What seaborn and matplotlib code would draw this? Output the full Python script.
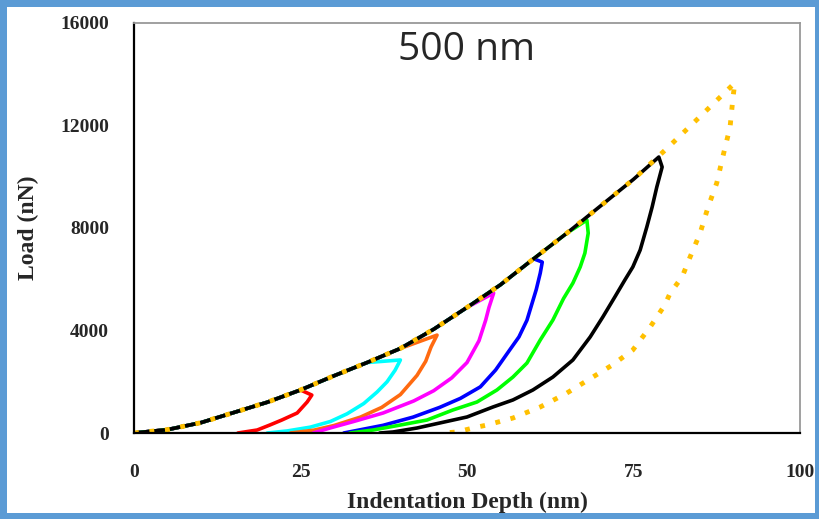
import matplotlib
matplotlib.use('Agg')
import matplotlib.pyplot as plt
import numpy as np
import pandas as pd
import seaborn as sns
from matplotlib.patches import Rectangle

# shared loading branch (depth nm, load nN)
loading_depth = [0, 5, 10, 15, 20, 25, 30, 35, 40, 45, 50, 55, 60, 65, 70, 75, 80, 85, 90]
loading_load = [0, 130, 400, 800, 1200, 1680, 2230, 2750, 3300, 4050, 4900, 5780, 6800, 7800,
                8850, 9900, 11100, 12350, 13650]

# unloading branches, each starting at its peak
red_depth = [26.7, 26.0, 24.5, 22.2, 20.4, 18.5, 15.6]
red_load = [1480, 1210, 780, 507, 312, 117, 0]

cyan_depth = [40.0, 39.2, 38.0, 36.5, 34.5, 32.0, 29.5, 26.5, 23.0, 20.0]
cyan_load = [2850, 2450, 2000, 1600, 1150, 750, 450, 230, 80, 0]

orange_depth = [45.5, 44.6, 43.8, 42.5, 40.0, 37.2, 34.0, 30.0, 27.0, 23.5]
orange_load = [3820, 3355, 2800, 2250, 1500, 1000, 620, 290, 110, 0]

magenta_depth = [54.0, 53.3, 52.8, 51.8, 50.0, 47.7, 45.0, 42.0, 37.4, 33.0, 29.5, 26.9]
magenta_load = [5460, 4900, 4400, 3600, 2750, 2150, 1650, 1250, 780, 450, 200, 0]

blue_depth = [61.3, 61.0, 60.4, 59.7, 59.0, 57.8, 56.3, 54.3, 52.0, 49.0, 45.9, 41.9, 37.4, 31.5]
blue_load = [6670, 6240, 5600, 5000, 4400, 3750, 3200, 2460, 1800, 1350, 1000, 620, 300, 0]

green_depth = [68.0, 68.2, 67.7, 67.0, 65.9, 64.5, 62.9, 61.0, 59.0, 56.9, 54.5, 51.5, 47.9,
               44.0, 40.0, 35.9, 32.4]
green_load = [8310, 7800, 7020, 6480, 5850, 5250, 4410, 3630, 2730, 2185, 1680, 1210, 900,
              507, 312, 117, 0]

black_depth = [78.8, 79.3, 78.5, 77.8, 77.0, 76.0, 74.9, 73.7, 72.2, 70.4, 68.5, 65.9, 62.9,
               59.9, 56.9, 53.9, 50.0, 45.9, 42.5, 38.9, 36.9]
black_load = [10770, 10380, 9600, 8820, 8040, 7140, 6480, 5970, 5310, 4530, 3750, 2850, 2185,
              1680, 1290, 1015, 625, 390, 195, 40, 0]

yellow_depth = [90.2, 89.9, 89.5, 88.4, 87.5, 86.2, 85.0, 83.5, 82.3, 80.5, 79.7, 77.5, 74.9,
                71.8, 68.9, 65.0, 61.0, 56.9, 53.0, 50.9, 48.5, 46.4]
yellow_load = [13660, 12990, 11940, 10770, 9755, 8820, 7800, 6870, 6090, 5460, 4995, 4136, 3240,
               2650, 2185, 1560, 1015, 585, 312, 195, 40, 0]

curves = [
    ('#FF0000', red_depth, red_load),
    ('#00FFFF', cyan_depth, cyan_load),
    ('#FF6A10', orange_depth, orange_load),
    ('#FF00FF', magenta_depth, magenta_load),
    ('#0000FF', blue_depth, blue_load),
    ('#00FF00', green_depth, green_load),
    ('#000000', black_depth, black_load),
    ('#FFC000', yellow_depth, yellow_load),
]

sns.set_style('white')
serif = ['Liberation Serif', 'DejaVu Serif']

fig = plt.figure(figsize=(8.19, 5.19), dpi=100)
fig.patch.set_facecolor('#5B9BD5')
fig.add_artist(Rectangle((7 / 819, 6 / 519), 808 / 819, 506 / 519,
                         transform=fig.transFigure, facecolor='white', edgecolor='none', zorder=0))
ax = fig.add_axes([134 / 819, 86 / 519, 666 / 819, 410 / 519])
ax.set_facecolor('white')

for color, dep, lod in curves:
    # loading branch up to the peak, then the unloading branch
    keep = [i for i, d in enumerate(loading_depth) if d < dep[0] - 1]
    x = [loading_depth[i] for i in keep] + dep
    y = [loading_load[i] for i in keep] + lod
    df = pd.DataFrame({'depth': x, 'load': y})
    if color == '#FFC000':
        sns.lineplot(data=df, x='depth', y='load', sort=False, estimator=None, errorbar=None,
                     color=color, ax=ax, linewidth=3.5, linestyle=(0, (1.0, 2.2)),
                     dash_capstyle='butt')
    else:
        sns.lineplot(data=df, x='depth', y='load', sort=False, estimator=None, errorbar=None,
                     color=color, ax=ax, linewidth=2.6)

ax.set_xlim(0, 100)
ax.set_ylim(0, 16000)
ax.set_xticks([0, 25, 50, 75, 100])
ax.set_yticks([0, 4000, 8000, 12000, 16000])
ax.set_xticklabels(['0', '25', '50', '75', '100'], fontfamily=serif, fontweight='bold', fontsize=14)
ax.set_yticklabels(['0', '4000', '8000', '12000', '16000'], fontfamily=serif, fontweight='bold',
                   fontsize=14)
ax.tick_params(axis='x', direction='out', length=8, width=1.5, pad=14, color='black')
ax.tick_params(axis='y', direction='out', length=7, width=1.5, pad=11, color='black')

for side in ['left', 'bottom']:
    ax.spines[side].set_color('black')
    ax.spines[side].set_linewidth(1.6)
for side in ['top', 'right']:
    ax.spines[side].set_color('#999999')
    ax.spines[side].set_linewidth(1.3)

ax.set_xlabel('Indentation Depth (nm)', fontfamily=serif, fontweight='bold', fontsize=17,
              labelpad=8)
ax.set_ylabel('Load (nN)', fontfamily=serif, fontweight='bold', fontsize=17, labelpad=15)

ax.text(50, 14950, '500 nm', ha='center', va='center', fontsize=28,
        fontfamily=['Open Sans', 'DejaVu Sans'])

fig.savefig('out.png', dpi=100, facecolor=fig.get_facecolor())
